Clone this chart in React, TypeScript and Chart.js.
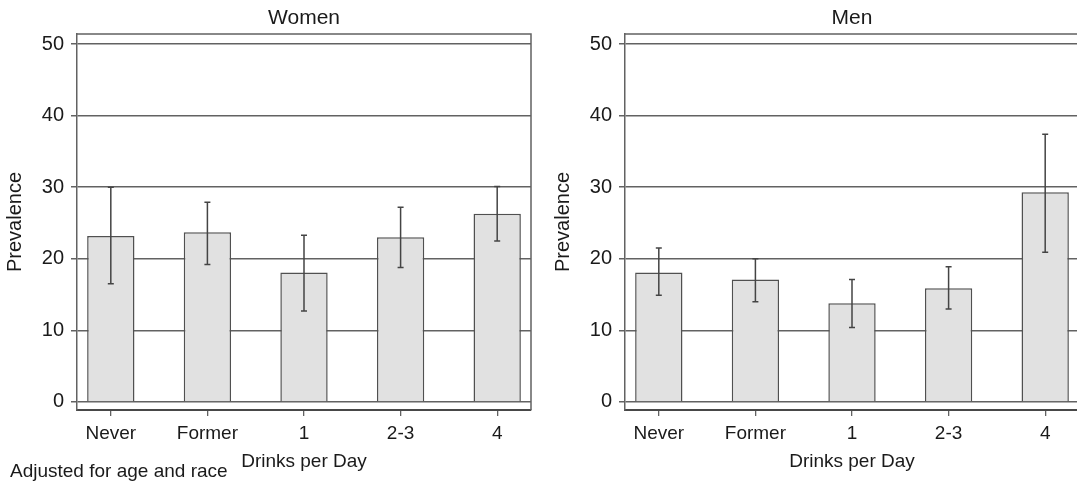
import React, { useEffect, useRef } from "react";
import { Chart, registerables } from "chart.js";

Chart.register(...registerables);

const categories = ["Never", "Former", "1", "2-3", "4"];
const womenValues = [23.2, 23.7, 18.1, 23.0, 26.3];
const womenLower = [16.5, 19.2, 12.7, 18.8, 22.5];
const womenUpper = [30.0, 27.9, 23.3, 27.2, 30.1];
const menValues = [18.1, 17.1, 13.8, 15.9, 29.3];
const menLower = [14.9, 14.0, 10.4, 13.0, 20.9];
const menUpper = [21.5, 20.0, 17.1, 18.9, 37.4];
const yTickValues = [0, 10, 20, 30, 40, 50];
const xAxisTitle = "Drinks per Day";
const yAxisTitle = "Prevalence";
const noteText = "Adjusted for age and race";

const FONT = "'Liberation Sans', Arial, Helvetica, sans-serif";
const TEXT = "#1a1a1a";
const GRID = "#626262";

function makeChart(
  canvas: HTMLCanvasElement,
  title: string,
  values: number[],
  lower: number[],
  upper: number[],
  note: string | null
) {
  const decor = {
    id: "decor",
    afterDatasetsDraw(chart: any) {
      const { ctx, chartArea, scales } = chart;
      const xs = scales.x;
      const ys = scales.y;
      ctx.save();
      // error bars
      ctx.strokeStyle = "#444444";
      ctx.lineWidth = 1.5;
      values.forEach((_, i) => {
        const x = xs.getPixelForValue(i);
        const yl = ys.getPixelForValue(lower[i]);
        const yu = ys.getPixelForValue(upper[i]);
        ctx.beginPath();
        ctx.moveTo(x, yl);
        ctx.lineTo(x, yu);
        ctx.moveTo(x - 3, yl);
        ctx.lineTo(x + 3, yl);
        ctx.moveTo(x - 3, yu);
        ctx.lineTo(x + 3, yu);
        ctx.stroke();
      });
      // top and right frame
      ctx.strokeStyle = GRID;
      ctx.lineWidth = 1.5;
      ctx.beginPath();
      ctx.moveTo(chartArea.left, chartArea.top);
      ctx.lineTo(chartArea.right, chartArea.top);
      ctx.lineTo(chartArea.right, chartArea.bottom);
      ctx.stroke();
      // title
      ctx.fillStyle = TEXT;
      ctx.font = `21px ${FONT}`;
      ctx.textAlign = "center";
      ctx.textBaseline = "middle";
      ctx.fillText(title, (chartArea.left + chartArea.right) / 2, 18);
      if (note) {
        ctx.font = `19px ${FONT}`;
        ctx.textAlign = "left";
        ctx.fillText(note, 10, 472);
      }
      ctx.restore();
    },
  };

  return new Chart(canvas, {
    type: "bar",
    data: {
      datasets: [
        {
          label: title,
          data: values.map((v, i) => ({ x: i, y: v })),
          backgroundColor: "#e1e1e1",
          borderColor: "#505050",
          borderWidth: 1.5,
          barPercentage: 0.49,
          categoryPercentage: 1,
        },
      ],
    },
    options: {
      responsive: false,
      animation: false,
      layout: { padding: { top: 34, right: 17, left: 0, bottom: 0 } },
      plugins: {
        legend: { display: false },
        tooltip: { enabled: false },
        title: { display: false },
      },
      scales: {
        x: {
          type: "linear",
          min: -0.35,
          max: 4.35,
          offset: false,
          afterBuildTicks: (scale: any) => {
            scale.ticks = categories.map((_, i) => ({ value: i }));
          },
          afterFit: (scale: any) => {
            scale.height = 78;
          },
          grid: {
            display: true,
            offset: false,
            drawOnChartArea: false,
            drawTicks: true,
            tickLength: 6,
            color: GRID,
            lineWidth: 1.3,
          },
          border: { display: true, color: "#484848", width: 2 },
          ticks: {
            autoSkip: false,
            maxRotation: 0,
            padding: 6,
            color: TEXT,
            font: { family: FONT, size: 19 },
            callback: (v: any) => categories[Number(v)] ?? "",
          },
          title: {
            display: true,
            text: xAxisTitle,
            color: TEXT,
            font: { family: FONT, size: 19 },
            padding: { top: 0, bottom: 14.6 },
          },
        },
        y: {
          type: "linear",
          min: -1.12,
          max: 51.4,
          afterBuildTicks: (scale: any) => {
            scale.ticks = yTickValues.map((v) => ({ value: v }));
          },
          afterFit: (scale: any) => {
            scale.width = 77;
          },
          grid: {
            display: true,
            drawTicks: true,
            tickLength: 6,
            color: GRID,
            lineWidth: 1.5,
          },
          border: { display: true, color: GRID, width: 1.5 },
          ticks: {
            padding: 7,
            color: TEXT,
            font: { family: FONT, size: 20 },
          },
          title: {
            display: true,
            text: yAxisTitle,
            color: TEXT,
            font: { family: FONT, size: 20 },
            padding: { top: 3, bottom: 0 },
          },
        },
      },
    },
    plugins: [decor],
  } as any);
}

export default function App() {
  const womenRef = useRef<HTMLCanvasElement>(null);
  const menRef = useRef<HTMLCanvasElement>(null);

  useEffect(() => {
    const w = makeChart(womenRef.current!, "Women", womenValues, womenLower, womenUpper, noteText);
    const m = makeChart(menRef.current!, "Men", menValues, menLower, menUpper, null);
    return () => {
      w.destroy();
      m.destroy();
    };
  }, []);

  return (
    <div
      style={{
        position: "fixed",
        left: 0,
        top: 0,
        width: 1077,
        height: 488,
        overflow: "hidden",
        background: "#fff",
      }}
    >
      <canvas
        ref={womenRef}
        width={548}
        height={488}
        style={{ position: "absolute", left: 0, top: 0, width: 548, height: 488 }}
      />
      <canvas
        ref={menRef}
        width={548}
        height={488}
        style={{ position: "absolute", left: 548, top: 0, width: 548, height: 488 }}
      />
    </div>
  );
}
